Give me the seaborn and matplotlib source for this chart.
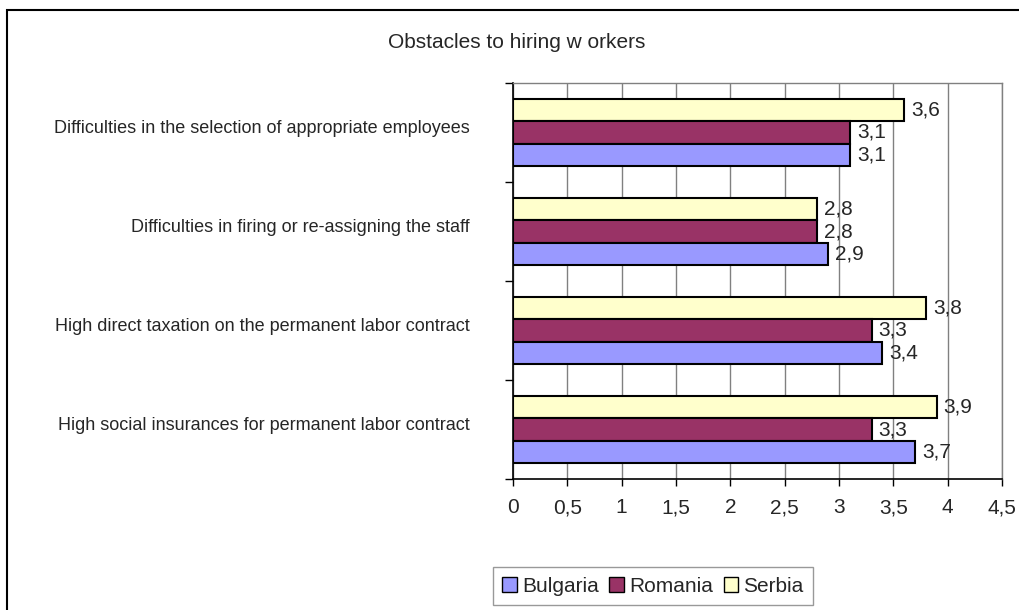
import matplotlib
matplotlib.use("Agg")
import matplotlib.pyplot as plt
import matplotlib.transforms as mtransforms
from matplotlib.patches import Rectangle, Patch
from matplotlib.ticker import FuncFormatter, MultipleLocator
import pandas as pd
import seaborn as sns

categories = [
    "Difficulties in the selection of appropriate employees",
    "Difficulties in firing or re-assigning the staff",
    "High direct taxation on the permanent labor contract",
    "High social insurances for permanent labor contract",
]
bulgaria = [3.1, 2.9, 3.4, 3.7]
romania = [3.1, 2.8, 3.3, 3.3]
serbia = [3.6, 2.8, 3.8, 3.9]
countries = ["Bulgaria", "Romania", "Serbia"]
colors = {"Bulgaria": "#9999FF", "Romania": "#993366", "Serbia": "#FFFFCC"}

rows = []
for name, vals in zip(countries, [bulgaria, romania, serbia]):
    for cat, v in zip(categories, vals):
        rows.append({"category": cat, "country": name, "value": v})
df = pd.DataFrame(rows)

sns.set_style("white")
plt.rcParams["font.family"] = ["Liberation Sans", "DejaVu Sans"]

fig = plt.figure(figsize=(10.2, 6.1), dpi=100)
ax = fig.add_axes([513 / 1020, 1 - 479 / 610, (1002 - 513) / 1020, (479 - 83) / 610])

# yellow bar on top within each group, so reverse the hue order for drawing
sns.barplot(data=df, y="category", x="value", hue="country",
            order=categories, hue_order=["Serbia", "Romania", "Bulgaria"],
            palette=colors, saturation=1, orient="h", width=0.67, gap=0,
            edgecolor="black", linewidth=1.5, ax=ax, legend=False, errorbar=None)

for cont in ax.containers:
    ax.bar_label(cont, labels=[f"{v:.1f}".replace(".", ",") for v in cont.datavalues],
                 padding=5, fontsize=15)

ax.set_xlim(0, 4.5)
ax.set_ylim(3.5, -0.5)
ax.xaxis.set_major_locator(MultipleLocator(0.5))
ax.xaxis.set_major_formatter(FuncFormatter(lambda v, p: f"{v:g}".replace(".", ",")))
ax.grid(axis="x", color="#808080", linewidth=1)
ax.set_axisbelow(True)
ax.set_xlabel("")
ax.set_ylabel("")

ax.set_yticks([0, 1, 2, 3])
ax.set_yticklabels(categories, fontsize=13)
ax.set_yticks([-0.5, 0.5, 1.5, 2.5, 3.5], minor=True)
ax.tick_params(axis="y", which="major", length=0, pad=31)
ax.tick_params(axis="y", which="minor", length=6, width=1, color="black", direction="out", left=True)
ax.tick_params(axis="x", length=5, width=1, color="black", direction="out", bottom=True,
               labelsize=15, pad=9)
shift = mtransforms.ScaledTranslation(0, 6 / 100, fig.dpi_scale_trans)
for lab in ax.get_yticklabels():
    lab.set_transform(lab.get_transform() + shift)

for side in ["top", "right"]:
    ax.spines[side].set_color("#808080")
    ax.spines[side].set_linewidth(1)
for side in ["left", "bottom"]:
    ax.spines[side].set_color("black")
    ax.spines[side].set_linewidth(1.2)

fig.text(517 / 1020, 1 - 42 / 610, "Obstacles to hiring w orkers", ha="center", va="center", fontsize=15)

handles = [Patch(facecolor=colors[c], edgecolor="black", linewidth=1) for c in countries]
leg = fig.legend(handles, countries, loc="center", bbox_to_anchor=(653 / 1020, 1 - 586 / 610),
                 ncol=3, fontsize=15, frameon=True, fancybox=False, handlelength=0.7,
                 handleheight=0.7, handletextpad=0.25, columnspacing=0.5, borderpad=0.45)
leg.get_frame().set_edgecolor("#808080")
leg.get_frame().set_linewidth(1)

fig.patches.append(Rectangle((7 / 1020, -0.1), 1.2, 1 - 10 / 610 + 0.1, transform=fig.transFigure,
                             fill=False, edgecolor="black", linewidth=1.5))

fig.savefig("out.png", dpi=100)
